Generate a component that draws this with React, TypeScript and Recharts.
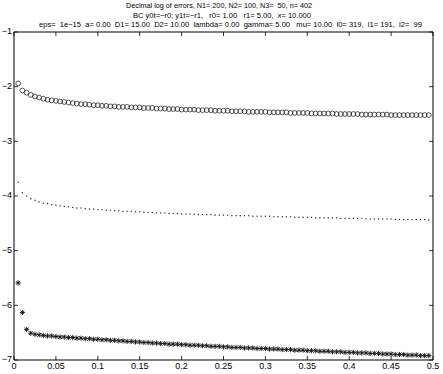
import React from 'react';
import { ScatterChart, Scatter, XAxis, YAxis, ReferenceLine } from 'recharts';

const xs = [
  0.005, 0.01, 0.015, 0.02, 0.025, 0.03, 0.035, 0.04, 0.045, 0.05,
  0.055, 0.06, 0.065, 0.07, 0.075, 0.08, 0.085, 0.09, 0.095, 0.1,
  0.105, 0.11, 0.115, 0.12, 0.125, 0.13, 0.135, 0.14, 0.145, 0.15,
  0.155, 0.16, 0.165, 0.17, 0.175, 0.18, 0.185, 0.19, 0.195, 0.2,
  0.205, 0.21, 0.215, 0.22, 0.225, 0.23, 0.235, 0.24, 0.245, 0.25,
  0.255, 0.26, 0.265, 0.27, 0.275, 0.28, 0.285, 0.29, 0.295, 0.3,
  0.305, 0.31, 0.315, 0.32, 0.325, 0.33, 0.335, 0.34, 0.345, 0.35,
  0.355, 0.36, 0.365, 0.37, 0.375, 0.38, 0.385, 0.39, 0.395, 0.4,
  0.405, 0.41, 0.415, 0.42, 0.425, 0.43, 0.435, 0.44, 0.445, 0.45,
  0.455, 0.46, 0.465, 0.47, 0.475, 0.48, 0.485, 0.49, 0.495,
];

const circleErr = [
  -1.94, -2.07, -2.11, -2.15, -2.18, -2.2, -2.22, -2.24, -2.25, -2.26,
  -2.27, -2.28, -2.29, -2.3, -2.31, -2.32, -2.32, -2.33, -2.34, -2.34,
  -2.35, -2.35, -2.36, -2.36, -2.37, -2.37, -2.37, -2.38, -2.38, -2.38,
  -2.39, -2.39, -2.39, -2.4, -2.4, -2.4, -2.41, -2.41, -2.41, -2.42,
  -2.42, -2.42, -2.42, -2.43, -2.43, -2.43, -2.43, -2.44, -2.44, -2.44,
  -2.44, -2.45, -2.45, -2.45, -2.45, -2.46, -2.46, -2.46, -2.46, -2.46,
  -2.47, -2.47, -2.47, -2.47, -2.47, -2.48, -2.48, -2.48, -2.48, -2.48,
  -2.49, -2.49, -2.49, -2.49, -2.49, -2.49, -2.5, -2.5, -2.5, -2.5,
  -2.5, -2.5, -2.51, -2.51, -2.51, -2.51, -2.51, -2.51, -2.51, -2.52,
  -2.52, -2.52, -2.52, -2.52, -2.52, -2.52, -2.52, -2.52, -2.52,
];

const dotErr = [
  -3.75, -3.94, -4.0, -4.05, -4.08, -4.11, -4.13, -4.14, -4.16, -4.17,
  -4.18, -4.19, -4.2, -4.21, -4.22, -4.22, -4.23, -4.24, -4.24, -4.25,
  -4.25, -4.26, -4.26, -4.27, -4.27, -4.28, -4.28, -4.28, -4.29, -4.29,
  -4.3, -4.3, -4.3, -4.31, -4.31, -4.31, -4.32, -4.32, -4.32, -4.33,
  -4.33, -4.33, -4.33, -4.34, -4.34, -4.34, -4.34, -4.35, -4.35, -4.35,
  -4.35, -4.36, -4.36, -4.36, -4.36, -4.36, -4.37, -4.37, -4.37, -4.37,
  -4.37, -4.38, -4.38, -4.38, -4.38, -4.38, -4.39, -4.39, -4.39, -4.39,
  -4.39, -4.4, -4.4, -4.4, -4.4, -4.4, -4.4, -4.41, -4.41, -4.41,
  -4.41, -4.41, -4.41, -4.42, -4.42, -4.42, -4.42, -4.42, -4.42, -4.42,
  -4.43, -4.43, -4.43, -4.43, -4.43, -4.43, -4.43, -4.43, -4.44,
];

const starErr = [
  -5.59, -6.13, -6.44, -6.51, -6.53, -6.54, -6.55, -6.56, -6.56, -6.57,
  -6.58, -6.58, -6.59, -6.59, -6.6, -6.6, -6.61, -6.61, -6.62, -6.62,
  -6.63, -6.63, -6.64, -6.64, -6.65, -6.65, -6.66, -6.66, -6.67, -6.67,
  -6.68, -6.68, -6.69, -6.69, -6.7, -6.7, -6.71, -6.71, -6.71, -6.72,
  -6.72, -6.73, -6.73, -6.73, -6.74, -6.74, -6.75, -6.75, -6.75, -6.76,
  -6.76, -6.77, -6.77, -6.77, -6.78, -6.78, -6.78, -6.79, -6.79, -6.79,
  -6.8, -6.8, -6.8, -6.81, -6.81, -6.81, -6.82, -6.82, -6.82, -6.83,
  -6.83, -6.83, -6.84, -6.84, -6.84, -6.85, -6.85, -6.85, -6.86, -6.86,
  -6.86, -6.87, -6.87, -6.87, -6.88, -6.88, -6.88, -6.89, -6.89, -6.89,
  -6.9, -6.9, -6.9, -6.91, -6.91, -6.91, -6.92, -6.92, -6.92,
];

const xTicks = [0, 0.05, 0.1, 0.15, 0.2, 0.25, 0.3, 0.35, 0.4, 0.45, 0.5];
const yTicks = [-7, -6, -5, -4, -3, -2, -1];

const titleLines = [
  'Decimal log of errors, N1= 200, N2= 100, N3=  50, n= 402',
  'BC y0t=\u2212r0; y1t=\u2212r1,   r0= 1.00   r1= 5.00,  x= 10.000',
  'eps=  1e\u221215  a= 0.00  D1= 15.00  D2= 10.00  lambda= 0.00  gamma= 5.00   mu= 10.00  l0= 319,  l1= 191,  l2=  99',
];

const W = 443;
const H = 374;
const TOP = 32;
const LEFT = 14;
const RIGHT = 433;
const BOTTOM = 360;
const FONT = 'Liberation Sans, Arial, Helvetica, sans-serif';
const TICK_LEN = 4;

const circles = xs.map((x, i) => ({ x, y: circleErr[i] }));
const dots = xs.map((x, i) => ({ x, y: dotErr[i] }));
const stars = xs.map((x, i) => ({ x, y: starErr[i] }));

const fmtX = (v: number) => String(v);
const fmtY = (v: number) => (v < 0 ? '\u2212' + Math.abs(v) : String(v));

const XTick = (props: any) => {
  const { x, y, payload } = props;
  return (
    <g>
      <line x1={x} x2={x} y1={y} y2={y - TICK_LEN} stroke="#000" strokeWidth={0.8} />
      <line x1={x} x2={x} y1={TOP} y2={TOP + TICK_LEN} stroke="#000" strokeWidth={0.8} />
      <text x={x} y={y + 7} textAnchor="middle" dominantBaseline="middle" fontSize={9} fontFamily={FONT} fill="#000">
        {fmtX(payload.value)}
      </text>
    </g>
  );
};

const YTick = (props: any) => {
  const { x, y, payload } = props;
  return (
    <g>
      <line x1={x} x2={x + TICK_LEN} y1={y} y2={y} stroke="#000" strokeWidth={0.8} />
      <line x1={RIGHT} x2={RIGHT - TICK_LEN} y1={y} y2={y} stroke="#000" strokeWidth={0.8} />
      <text x={x - 2} y={y} textAnchor="end" dominantBaseline="middle" fontSize={9} fontFamily={FONT} fill="#000">
        {fmtY(payload.value)}
      </text>
    </g>
  );
};

const Circle = (props: any) => (
  <circle cx={props.cx} cy={props.cy} r={2.4} fill="none" stroke="#111" strokeWidth={0.7} />
);

const Dot = (props: any) => (
  <rect x={props.cx - 0.6} y={props.cy - 0.6} width={1.2} height={1.2} fill="#222" />
);

const Star = (props: any) => {
  const { cx, cy } = props;
  const r = 2.6;
  const d = r * 0.72;
  return (
    <g stroke="#111" strokeWidth={0.9}>
      <line x1={cx - r} x2={cx + r} y1={cy} y2={cy} />
      <line x1={cx} x2={cx} y1={cy - r} y2={cy + r} />
      <line x1={cx - d} x2={cx + d} y1={cy - d} y2={cy + d} />
      <line x1={cx - d} x2={cx + d} y1={cy + d} y2={cy - d} />
    </g>
  );
};

export default function App() {
  return (
    <div style={{ position: 'absolute', left: 0, top: 0, width: W, height: H, background: '#fff' }}>
      <svg width={W} height={32} style={{ position: 'absolute', left: 0, top: 0 }}>
        <text x={219} y={8} textAnchor="middle" fontSize={7.6} fontFamily={FONT} style={{ whiteSpace: 'pre' }} textLength={186} lengthAdjust="spacingAndGlyphs">
          {titleLines[0]}
        </text>
        <text x={222} y={17.5} textAnchor="middle" fontSize={7.6} fontFamily={FONT} style={{ whiteSpace: 'pre' }} textLength={178} lengthAdjust="spacingAndGlyphs">
          {titleLines[1]}
        </text>
        <text x={230.5} y={27} textAnchor="middle" fontSize={7.6} fontFamily={FONT} style={{ whiteSpace: 'pre' }} textLength={383} lengthAdjust="spacingAndGlyphs">
          {titleLines[2]}
        </text>
      </svg>
      <div style={{ position: 'absolute', left: 0, top: 0 }}>
        <ScatterChart width={W} height={H} margin={{ top: TOP, right: W - RIGHT, bottom: 0, left: 0 }}>
          <XAxis
            type="number"
            dataKey="x"
            domain={[0, 0.5]}
            ticks={xTicks}
            height={H - BOTTOM}
            tickSize={0}
            tickMargin={0}
            tickLine={false}
            axisLine={{ stroke: '#000', strokeWidth: 1 }}
            tick={<XTick />}
            interval={0}
            allowDataOverflow
          />
          <YAxis
            type="number"
            dataKey="y"
            domain={[-7, -1]}
            ticks={yTicks}
            width={LEFT}
            tickSize={0}
            tickMargin={0}
            tickLine={false}
            axisLine={{ stroke: '#000', strokeWidth: 1 }}
            tick={<YTick />}
            interval={0}
            allowDataOverflow
          />
          <ReferenceLine y={-1} stroke="#000" strokeWidth={1} />
          <ReferenceLine x={0.5} stroke="#000" strokeWidth={1} />
          <Scatter data={circles} shape={<Circle />} isAnimationActive={false} />
          <Scatter data={dots} shape={<Dot />} isAnimationActive={false} />
          <Scatter data={stars} shape={<Star />} isAnimationActive={false} />
        </ScatterChart>
      </div>
    </div>
  );
}
